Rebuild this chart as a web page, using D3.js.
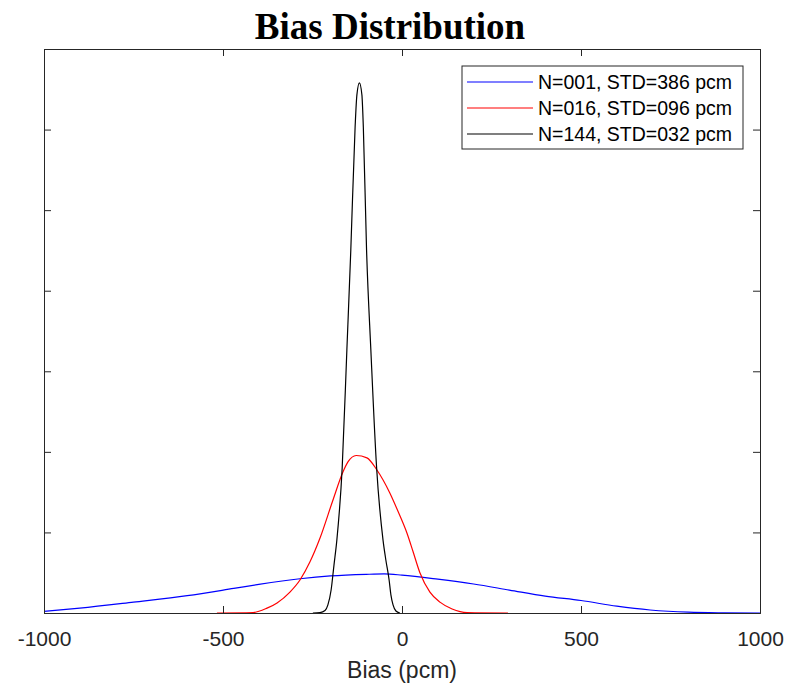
<!DOCTYPE html>
<html lang="en">
<head>
    <meta charset="UTF-8">
    <title>Bias Distribution</title>
    <script src="https://d3js.org/d3.v7.min.js"></script>
    <style>
        body {
            margin: 0;
            padding: 0;
            background-color: #fff;
        }
        .legend-text {
            font-family: "Liberation Sans", Arial, sans-serif;
            font-size: 19.5px;
            fill: #000;
        }
    </style>
</head>
<body>
    <script>
        // x in pcm, y = probability density (per pcm)
        const blueX = [-1000, -900, -750, -600, -470, -400, -285, -200, -100, -50, 0, 100, 200, 300, 400, 500, 600, 693, 800, 900, 1000];
        const blueY = [0.00004, 0.00012, 0.00027, 0.00043, 0.00061, 0.00071, 0.00085, 0.00092, 0.00096, 0.00097, 0.00094, 0.00084, 0.00072, 0.00057, 0.00042, 0.00031, 0.00017, 0.000075, 0.00002, 0.000005, 0];

        const redX = [-517, -416, -377, -349, -313, -285, -257, -229, -193, -165, -151, -128, -98, -70, -34, -10, 14, 31, 50, 78, 106, 140, 182, 296];
        const redY = [0, 0.00001, 0.00012, 0.00025, 0.00052, 0.00082, 0.00127, 0.00186, 0.0028, 0.0035, 0.00375, 0.00391, 0.00385, 0.00355, 0.00298, 0.0025, 0.00198, 0.00152, 0.001, 0.00052, 0.00027, 0.0001, 0.00001, 0];

        const blackX = [-249, -229, -215, -207, -198, -190, -182, -167, -154, -143, -131, -126, -119, -112, -108, -99, -87, -71, -53, -45, -36, -31, -25, -17, -6];
        const blackY = [0, 0.00001, 0.00006, 0.0002, 0.00057, 0.00119, 0.00181, 0.00362, 0.00653, 0.00901, 0.01206, 0.01286, 0.01316, 0.01286, 0.01206, 0.00901, 0.00653, 0.00362, 0.00181, 0.00131, 0.00082, 0.00045, 0.0002, 0.00005, 0];

        const seriesNames = ["N=001, STD=386 pcm", "N=016, STD=096 pcm", "N=144, STD=032 pcm"];
        const seriesColors = ["#0000ff", "#ff0000", "#000000"];
        const xTicks = [-1000, -500, 0, 500, 1000];
        const yTicks = [0, 0.002, 0.004, 0.006, 0.008, 0.010, 0.012, 0.014];

        const W = 787, H = 686;
        const margin = { top: 49, right: 27, bottom: 73, left: 44 };
        const width = W - margin.left - margin.right;
        const height = H - margin.top - margin.bottom;

        const svg = d3.select("body").append("svg")
            .attr("width", W)
            .attr("height", H);

        const g = svg.append("g")
            .attr("transform", `translate(${margin.left},${margin.top})`);

        const x = d3.scaleLinear().domain([-1000, 1000]).range([0, width]);
        const y = d3.scaleLinear().domain([0, 0.014]).range([height, 0]);

        // title
        svg.append("text")
            .attr("x", 390)
            .attr("y", 39)
            .attr("text-anchor", "middle")
            .style("font-family", "'Liberation Serif', 'Times New Roman', serif")
            .style("font-weight", "bold")
            .style("font-size", "37px")
            .style("fill", "#000")
            .text("Bias Distribution");

        // curves
        const series = [
            { xs: blueX, ys: blueY },
            { xs: redX, ys: redY },
            { xs: blackX, ys: blackY }
        ];
        const line = d3.line()
            .x(d => x(d[0]))
            .y(d => y(d[1]))
            .curve(d3.curveMonotoneX);

        series.forEach((s, i) => {
            g.append("path")
                .datum(s.xs.map((v, j) => [v, s.ys[j]]))
                .attr("fill", "none")
                .attr("stroke", seriesColors[i])
                .attr("stroke-width", 1.2)
                .attr("d", line);
        });

        // frame + inward ticks (matlab style box)
        const axisColor = "#262626";
        const tickLen = 7;
        const bottomAxis = d3.axisBottom(x).tickValues(xTicks).tickSize(-tickLen).tickPadding(tickLen + 11).tickFormat(d => String(d));
        const topAxis = d3.axisTop(x).tickValues(xTicks).tickSize(-tickLen).tickFormat("");
        const leftAxis = d3.axisLeft(y).tickValues(yTicks).tickSize(-tickLen).tickFormat("");
        const rightAxis = d3.axisRight(y).tickValues(yTicks).tickSize(-tickLen).tickFormat("");

        const gb = g.append("g").attr("transform", `translate(0,${height})`).call(bottomAxis);
        const gt = g.append("g").call(topAxis);
        const gl = g.append("g").call(leftAxis);
        const gr = g.append("g").attr("transform", `translate(${width},0)`).call(rightAxis);

        [gb, gt, gl, gr].forEach(a => {
            a.select(".domain").attr("stroke", axisColor).attr("stroke-width", 1);
            a.selectAll(".tick line").attr("stroke", axisColor);
        });
        gb.selectAll(".tick text")
            .style("font-family", "'Liberation Sans', Arial, sans-serif")
            .style("font-size", "21px")
            .attr("fill", axisColor);

        // x axis label
        svg.append("text")
            .attr("x", margin.left + width / 2)
            .attr("y", 678)
            .attr("text-anchor", "middle")
            .style("font-family", "'Liberation Sans', Arial, sans-serif")
            .style("font-size", "23px")
            .style("fill", axisColor)
            .text("Bias (pcm)");

        // legend
        const legend = svg.append("g").attr("transform", "translate(462,66)");
        legend.append("rect")
            .attr("width", 281)
            .attr("height", 83)
            .attr("fill", "#fff")
            .attr("stroke", axisColor)
            .attr("stroke-width", 1);

        seriesNames.forEach((name, i) => {
            const yy = 16 + i * 26;
            legend.append("line")
                .attr("x1", 5).attr("x2", 71)
                .attr("y1", yy).attr("y2", yy)
                .attr("stroke", seriesColors[i])
                .attr("stroke-width", 1.2);
            legend.append("text")
                .attr("class", "legend-text")
                .attr("x", 76)
                .attr("y", yy + 7)
                .text(name);
        });
    </script>
</body>
</html>
